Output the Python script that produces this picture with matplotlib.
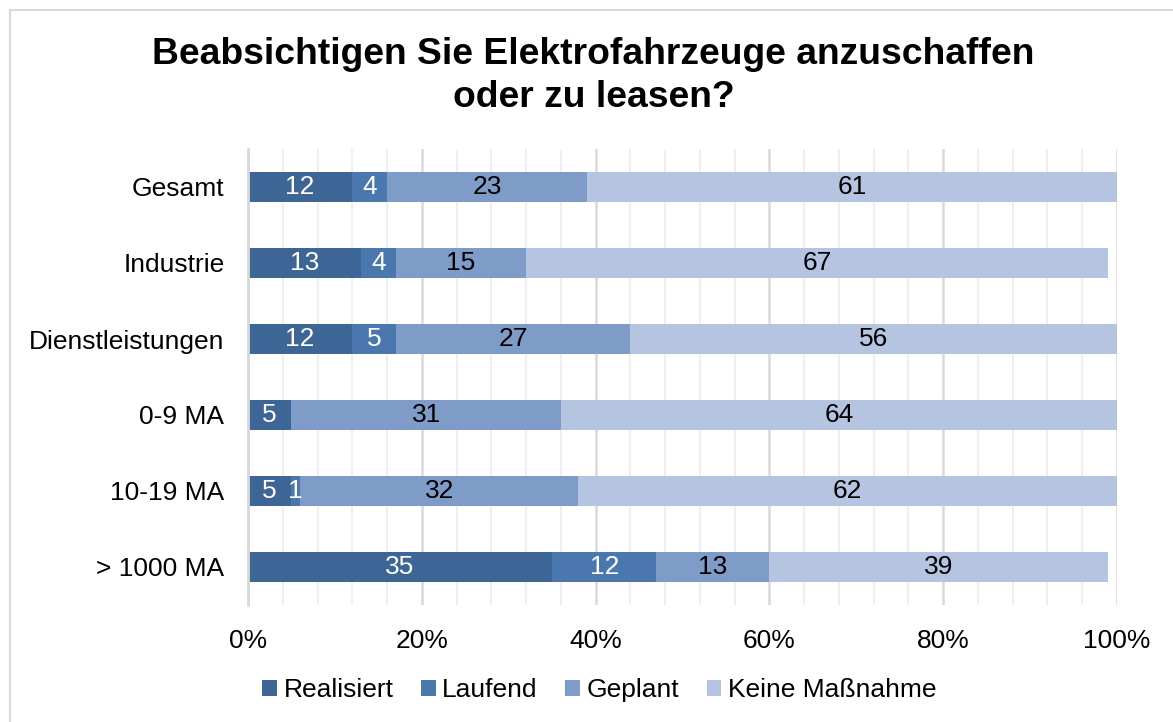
import matplotlib.pyplot as plt
import numpy as np
from matplotlib.patches import Rectangle

plt.rcParams['font.family'] = ['Liberation Sans', 'DejaVu Sans']

# Daten
categories = ['Gesamt', 'Industrie', 'Dienstleistungen', '0-9 MA', '10-19 MA', '> 1000 MA']
series_names = ['Realisiert', 'Laufend', 'Geplant', 'Keine Maßnahme']
realisiert = [12, 13, 12, 5, 5, 35]
laufend = [4, 4, 5, 0, 1, 12]
geplant = [23, 15, 27, 31, 32, 13]
keine = [61, 67, 56, 64, 62, 39]
xticks = [0, 20, 40, 60, 80, 100]

colors = ['#3d6595', '#4a78ae', '#7f9cc8', '#b5c4e0']
text_colors = ['white', 'white', 'black', 'black']
FS = 19

fig = plt.figure(figsize=(11.73, 7.22), dpi=100)
ax = fig.add_axes([248/1173, 1 - 605/722, (1117-248)/1173, (605-149)/722])

# Rahmen um die Grafik
fig.patches.append(Rectangle((10/1173, -0.1), 1.2, 1.1 - 10/722, transform=fig.transFigure,
                             fill=False, edgecolor='#d9d9d9', linewidth=1.5))

y = np.arange(len(categories))
left = np.zeros(len(categories))
for name, vals, col, tcol in zip(series_names, [realisiert, laufend, geplant, keine], colors, text_colors):
    vals = np.array(vals, dtype=float)
    bars = ax.barh(y, vals, left=left, height=0.4, color=col, label=name, zorder=3)
    for b, v, l in zip(bars, vals, left):
        if v > 0:
            ax.text(l + v / 2, b.get_y() + b.get_height() / 2, f'{int(v)}',
                    ha='center', va='center', color=tcol, fontsize=FS, zorder=4)
    left += vals

ax.set_xlim(0, 100)
ax.set_ylim(len(categories) - 0.5, -0.5)
ax.set_yticks(y)
ax.set_yticklabels(categories, fontsize=FS)
ax.set_xticks(xticks)
ax.set_xticklabels([f'{t}%' for t in xticks], fontsize=FS)
ax.set_xticks(np.arange(0, 101, 4), minor=True)
ax.grid(axis='x', which='minor', color='#ececec', linewidth=1.2, zorder=0)
ax.grid(axis='x', which='major', color='#d9d9d9', linewidth=1.8, zorder=0)
ax.tick_params(axis='both', which='both', length=0)
ax.tick_params(axis='x', pad=17)
ax.tick_params(axis='y', pad=17)
for s in ['top', 'right', 'bottom']:
    ax.spines[s].set_visible(False)
ax.spines['left'].set_color('#d9d9d9')
ax.spines['left'].set_linewidth(2)
ax.spines['left'].set_zorder(5)

fig.text(0.506, 1 - 76/722, 'Beabsichtigen Sie Elektrofahrzeuge anzuschaffen\noder zu leasen?',
         ha='center', va='center', fontsize=26.8, fontweight='bold', linespacing=1.32)

fig.legend(loc='center', bbox_to_anchor=(0.511, 1 - 690/722), ncol=4, frameon=False,
           fontsize=FS, handlelength=0.55, handleheight=0.55, handletextpad=0.25, columnspacing=1.05)

fig.savefig('out.png', dpi=100)
